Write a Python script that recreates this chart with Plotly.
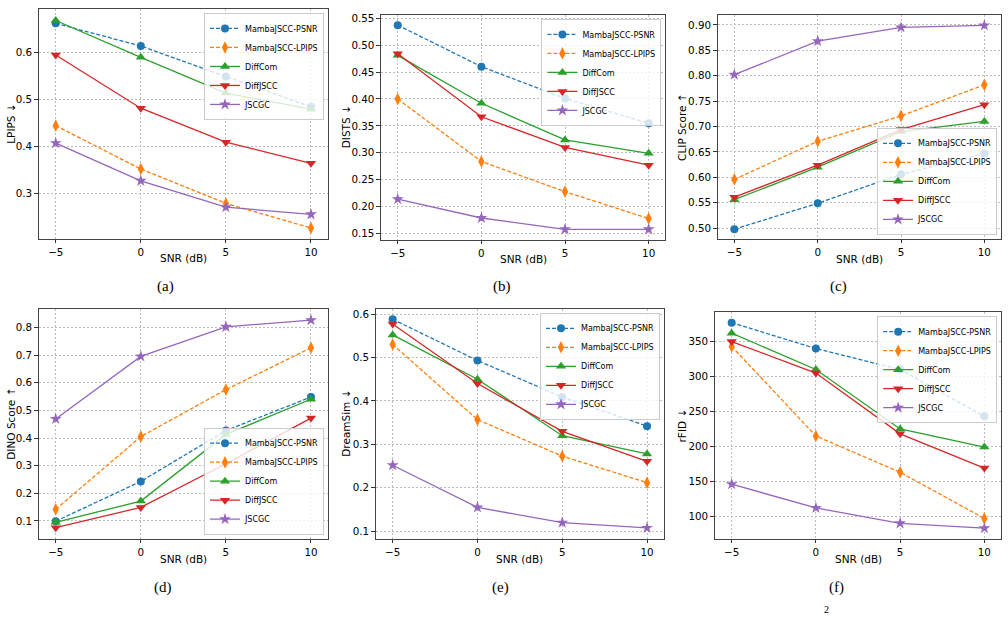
import plotly.graph_objects as go

snr = [-5, 0, 5, 10]
methods = ["MambaJSCC-PSNR", "MambaJSCC-LPIPS", "DiffCom", "DiffJSCC", "JSCGC"]

lpips = {
    "MambaJSCC-PSNR": [0.661, 0.613, 0.548, 0.484],
    "MambaJSCC-LPIPS": [0.444, 0.352, 0.279, 0.227],
    "DiffCom": [0.667, 0.589, 0.513, 0.479],
    "DiffJSCC": [0.594, 0.481, 0.409, 0.364],
    "JSCGC": [0.407, 0.327, 0.271, 0.256],
}
dists = {
    "MambaJSCC-PSNR": [0.537, 0.460, 0.401, 0.355],
    "MambaJSCC-LPIPS": [0.400, 0.284, 0.228, 0.178],
    "DiffCom": [0.481, 0.392, 0.324, 0.299],
    "DiffJSCC": [0.484, 0.367, 0.310, 0.277],
    "JSCGC": [0.214, 0.179, 0.158, 0.158],
}
clip = {
    "MambaJSCC-PSNR": [0.498, 0.549, 0.606, 0.647],
    "MambaJSCC-LPIPS": [0.596, 0.671, 0.721, 0.782],
    "DiffCom": [0.556, 0.620, 0.690, 0.710],
    "DiffJSCC": [0.561, 0.624, 0.694, 0.743],
    "JSCGC": [0.802, 0.868, 0.895, 0.899],
}
dino = {
    "MambaJSCC-PSNR": [0.099, 0.243, 0.427, 0.548],
    "MambaJSCC-LPIPS": [0.142, 0.405, 0.575, 0.726],
    "DiffCom": [0.095, 0.172, 0.413, 0.540],
    "DiffJSCC": [0.076, 0.149, 0.307, 0.472],
    "JSCGC": [0.469, 0.695, 0.802, 0.826],
}
dreamsim = {
    "MambaJSCC-PSNR": [0.588, 0.493, 0.409, 0.342],
    "MambaJSCC-LPIPS": [0.530, 0.357, 0.273, 0.212],
    "DiffCom": [0.552, 0.450, 0.320, 0.278],
    "DiffJSCC": [0.577, 0.440, 0.330, 0.261],
    "JSCGC": [0.252, 0.155, 0.120, 0.108],
}
rfid = {
    "MambaJSCC-PSNR": [377, 340, 310, 243],
    "MambaJSCC-LPIPS": [343, 215, 163, 97],
    "DiffCom": [362, 310, 225, 199],
    "DiffJSCC": [350, 305, 218, 169],
    "JSCGC": [146, 112, 90, 83],
}

panels = [
    dict(data=lpips, ylabel="LPIPS ↓", caption="(a)"),
    dict(data=dists, ylabel="DISTS ↓", caption="(b)"),
    dict(data=clip, ylabel="CLIP Score ↑", caption="(c)"),
    dict(data=dino, ylabel="DINO Score ↑", caption="(d)"),
    dict(data=dreamsim, ylabel="DreamSim ↓", caption="(e)"),
    dict(data=rfid, ylabel="rFID ↓", caption="(f)"),
]

# ---- styling / layout (pixel positions of the axes frames) ----
W, H = 1008, 620
frames = [  # (left, right, top, bottom) in px
    (38.7, 328.0, 6.0, 236.7),
    (381.0, 665.4, 12.0, 237.7),
    (717.7, 1001.0, 12.0, 237.0),
    (38.7, 328.0, 307.3, 538.3),
    (375.7, 664.0, 307.3, 538.3),
    (714.8, 1001.2, 310.7, 538.3),
]
ylabel_x = [11, 346, 682, 11, 346, 682]
yranges = [
    [0.2045, 0.6915],
    [0.139, 0.556],
    [0.479, 0.9196],
    [0.036, 0.867],
    [0.083, 0.612],
    [68, 392],
]
ydticks = [0.1, 0.05, 0.05, 0.1, 0.1, 50]
yfmts = [".1f", ".2f", ".2f", ".1f", ".1f", "d"]
legend_pos = ["top", "top", "bottom", "bottom", "top", "top"]
captions_px = [(165, 285), (502, 285), (838, 285), (163, 587), (500, 587), (836, 587)]

colors = ["#1f77b4", "#ff7f0e", "#2ca02c", "#d62728", "#9467bd"]
symbols = ["circle", "diamond-tall", "triangle-up", "triangle-down", "star"]
msizes = [8, 9, 9, 9, 9]
dashes = ["4px,2px", "4px,2px", "solid", "solid", "solid"]

fig = go.Figure()
layout = dict(
    width=W, height=H, autosize=False,
    margin=dict(l=0, r=0, t=0, b=0),
    paper_bgcolor="white", plot_bgcolor="white",
    font=dict(family="DejaVu Sans", size=11, color="black"),
    annotations=[],
)

for i, p in enumerate(panels):
    k = i + 1
    xa = "x" if k == 1 else f"x{k}"
    ya = "y" if k == 1 else f"y{k}"
    lg = "legend" if k == 1 else f"legend{k}"
    for j, m in enumerate(methods):
        fig.add_trace(go.Scatter(
            x=snr, y=p["data"][m], name=m, mode="lines+markers",
            xaxis=xa, yaxis=ya, legend=lg,
            line=dict(color=colors[j], width=1.3, dash=dashes[j]),
            marker=dict(symbol=symbols[j], size=msizes[j], color=colors[j]),
        ))
    l, r, t, b = frames[i]
    xdom = [l / W, r / W]
    ydom = [1 - b / H, 1 - t / H]
    common = dict(
        showline=True, mirror=True, linecolor="#444444", linewidth=1.2,
        showgrid=True, gridcolor="#bdbdbd", gridwidth=0.8, griddash="2px,2px",
        zeroline=False, ticks="outside", ticklen=3.5, tickwidth=1,
        tickcolor="#333333", tickfont=dict(size=10.3),
    )
    layout["xaxis" if k == 1 else f"xaxis{k}"] = dict(
        domain=xdom, anchor=ya, range=[-6, 11], tickvals=snr, **common,
    )
    layout["yaxis" if k == 1 else f"yaxis{k}"] = dict(
        domain=ydom, anchor=xa, range=yranges[i], dtick=ydticks[i],
        tickformat=yfmts[i], **common,
    )
    if legend_pos[i] == "top":
        ly, lya = ydom[1] - 4 / H, "top"
    else:
        ly, lya = ydom[0] + 4 / H, "bottom"
    layout[lg] = dict(
        x=xdom[1] - 4 / W, xanchor="right", y=ly, yanchor=lya,
        bgcolor="rgba(255,255,255,0.8)", bordercolor="#cccccc", borderwidth=1,
        font=dict(size=8), tracegroupgap=0, itemwidth=30,
    )
    # axis titles
    layout["annotations"].append(dict(
        text="SNR (dB)", x=(l + r) / 2 / W, y=1 - (b + 20) / H,
        xref="paper", yref="paper", showarrow=False, font=dict(size=10.5),
        xanchor="center", yanchor="middle",
    ))
    layout["annotations"].append(dict(
        text=p["ylabel"], x=ylabel_x[i] / W, y=1 - (t + b) / 2 / H,
        xref="paper", yref="paper", showarrow=False, font=dict(size=10.5),
        textangle=-90, xanchor="center", yanchor="middle",
    ))
    cx, cy = captions_px[i]
    layout["annotations"].append(dict(
        text=p["caption"], x=cx / W, y=1 - cy / H, xref="paper", yref="paper",
        showarrow=False, font=dict(family="Liberation Serif", size=15),
        xanchor="center", yanchor="middle",
    ))

layout["annotations"].append(dict(
    text="2", x=826 / W, y=1 - 609 / H, xref="paper", yref="paper",
    showarrow=False, font=dict(family="Liberation Serif", size=10),
    xanchor="center", yanchor="middle",
))

fig.update_layout(**layout)
fig.write_html("out.html")
